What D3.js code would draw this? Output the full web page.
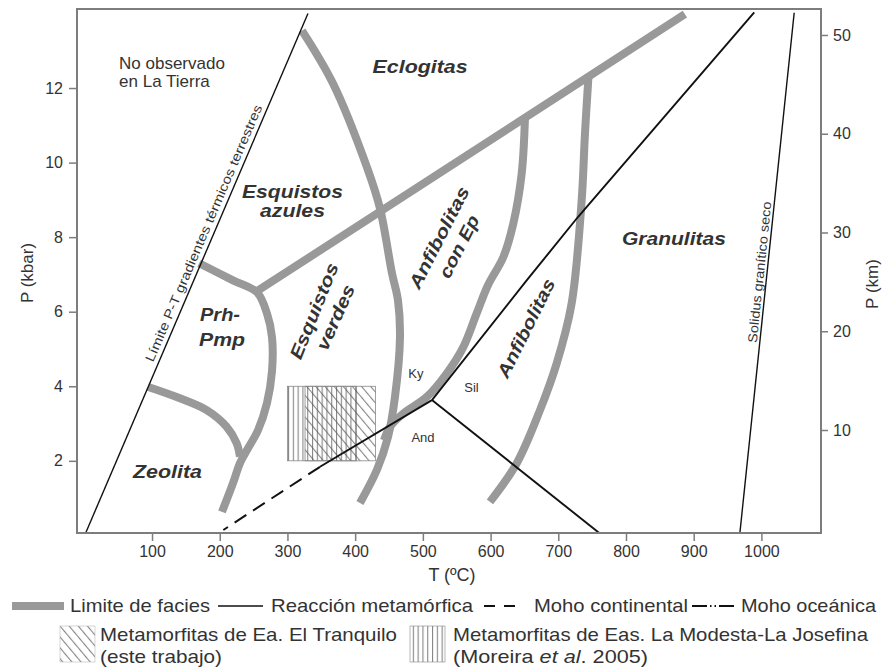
<!DOCTYPE html>
<html><head><meta charset="utf-8">
<script src="https://cdn.jsdelivr.net/npm/d3@7"></script>
<style>
body{margin:0;background:#fff}
svg{display:block}
text{font-family:"Liberation Sans",Arial,Helvetica,sans-serif}
</style>
</head><body>
<svg id="chart" width="892" height="671"></svg>
<script>
// ---------- DATA (T in ºC, P in kbar) ----------
const tempTicks = [100,200,300,400,500,600,700,800,900,1000];
const pressureTicks = [2,4,6,8,10,12];
const depthTicks = [10,20,30,40,50];

// facies limits (thick grey)
const faciesDiagonal = [[255,6.55],[887,13.98]];
const blueschistLimit = [[321.5,13.54],[367.3,12.12],[417.5,9.87],[436.7,8.77],[454.4,7.03],[463.2,6.31],[466.2,5.31],[458.8,3.71],[448.5,2.64],[432.2,1.76],[407.1,0.87]];
const prhPmpLimit = [[169.6,7.30],[219.6,6.84],[255.0,6.52],[269.8,5.95],[277.2,5.31],[277.2,4.41],[269.8,3.55],[256.5,2.82],[240.3,2.29],[229.9,1.94],[219.6,1.40],[203.3,0.63]];
const zeoliteLimit = [[94.5,3.98],[136.4,3.71],[180.7,3.36],[210.3,2.91],[225.0,2.47],[229.9,2.11]];
const epAmphiboliteLimit = [[650.8,11.2],[645.9,9.70],[633.5,8.36],[618.7,7.46],[596.1,6.71],[579.4,5.95],[559.7,5.05],[535.1,4.34],[505.6,3.71],[471.1,3.27],[451.4,2.91],[442.6,2.55]];
const granuliteLimit = [[599.1,0.90],[638.5,1.93],[673.0,3.36],[697.6,4.61],[719.7,6.22],[734.5,8.98],[739.4,10.77],[744.2,12.20],[745.0,12.35]];

// metamorphic reactions and other lines (thin black)
const ptLimit = [[2,0.064],[330.3,14.0]];
const kyaniteSillimanite = [[513.4,3.63],[653.3,6.84],[729.0,8.54],[989.4,14.03]];
const sillimaniteAndalusite = [[513.4,3.63],[760.5,0.064]];
const kyaniteAndalusite = [[513.4,3.63],[348.1,1.84]];
const mohoContinental = [[348.1,1.84],[205.3,0.145]];
const dryGraniteSolidus = [[968.2,0.064],[1048.4,14.02]];

// sample fields
const fieldModesta = {t0:300, t1:402, p0:2, p1:4};
const fieldTranquilo = {t0:326, t1:430, p0:2, p1:4};

// region labels: [text, T, P, anchor, length]
const faciesLabels = [
  ["Eclogitas",495.9,12.41,"middle",95],
  ["Esquistos",307.5,9.06,"middle",101],
  ["azules",307.5,8.53,"middle",65],
  ["Prh-",170.9,5.75,"start",40],
  ["Pmp",169.4,5.09,"start",46],
  ["Zeolita",71.9,1.54,"start",69],
  ["Granulitas",870.8,7.78,"middle",104]
];
// rotated labels: [text, T, P, angle, length]
const rotatedLabels = [
  ["Esquistos",339.2,6.02,-68,102],
  ["verdes",371.0,5.85,-66,70],
  ["Anfibolitas",523.8,7.99,-63,112],
  ["con Ep",553.3,7.75,-63,68],
  ["Anfibolitas",652.3,5.56,-63.5,108]
];
const mineralLabels = [["Ky",489.8,4.22],["Sil",571.8,3.84],["And",500.2,2.50]];

// ---------- SCALES ----------
const svg = d3.select("#chart");
const x = d3.scaleLinear().domain([-10.8,1088]).range([77,821]);
const y = d3.scaleLinear().domain([0.064,14.12]).range([533,9]);
const yKm = d3.scaleLinear().domain([-0.43,52.63]).range([533,9]);

const GREY = "#999999", INK = "#333333", FRAME = "#7d7d7d";

// ---------- PATTERNS ----------
const defs = svg.append("defs");
const pv = defs.append("pattern").attr("id","vert").attr("patternUnits","userSpaceOnUse")
  .attr("width",4.8).attr("height",10);
pv.append("line").attr("x1",0.6).attr("x2",0.6).attr("y1",0).attr("y2",10)
  .attr("stroke","#555").attr("stroke-width",0.8);
const pd = defs.append("pattern").attr("id","diag").attr("patternUnits","userSpaceOnUse")
  .attr("width",7).attr("height",10).attr("patternTransform","rotate(-40)");
pd.append("line").attr("x1",0.6).attr("x2",0.6).attr("y1",0).attr("y2",10)
  .attr("stroke","#555").attr("stroke-width",0.8);

// ---------- SAMPLE FIELDS ----------
function field(f, pat){
  svg.append("rect")
    .attr("x",x(f.t0)).attr("y",y(f.p1))
    .attr("width",x(f.t1)-x(f.t0)).attr("height",y(f.p0)-y(f.p1))
    .attr("fill",`url(#${pat})`).attr("stroke","#888").attr("stroke-width",0.8);
}
field(fieldModesta,"vert");
field(fieldTranquilo,"diag");

// ---------- FACIES LIMITS ----------
const smooth = d3.line().x(d=>x(d[0])).y(d=>y(d[1])).curve(d3.curveCatmullRom.alpha(0.5));
const straight = d3.line().x(d=>x(d[0])).y(d=>y(d[1]));
[blueschistLimit,prhPmpLimit,zeoliteLimit,epAmphiboliteLimit,granuliteLimit].forEach(c=>{
  svg.append("path").attr("d",smooth(c)).attr("fill","none")
    .attr("stroke",GREY).attr("stroke-width",8).attr("stroke-linejoin","round");
});
svg.append("path").attr("d",straight(faciesDiagonal)).attr("fill","none")
  .attr("stroke",GREY).attr("stroke-width",8);

// ---------- BLACK LINES ----------
[[ptLimit,1.4],[dryGraniteSolidus,1.4],[kyaniteSillimanite,1.9],[sillimaniteAndalusite,1.9],[kyaniteAndalusite,1.9]].forEach(([c,w])=>{
  svg.append("path").attr("d",straight(c)).attr("fill","none").attr("stroke","#111").attr("stroke-width",w);
});
svg.append("path").attr("d",straight(mohoContinental)).attr("fill","none")
  .attr("stroke","#111").attr("stroke-width",2).attr("stroke-dasharray","14,8");

// ---------- FRAME & AXES ----------
svg.append("rect").attr("x",77).attr("y",9).attr("width",744).attr("height",524)
  .attr("fill","none").attr("stroke",FRAME).attr("stroke-width",2);

function styleAxis(g){
  g.select(".domain").remove();
  g.selectAll(".tick line").attr("stroke",FRAME).attr("stroke-width",1.5);
  g.selectAll(".tick text").attr("fill",INK).attr("font-size",16)
    .attr("font-family",'"Liberation Sans",Arial,sans-serif');
}
svg.append("g").attr("transform","translate(0,533)")
  .call(d3.axisBottom(x).tickValues(tempTicks).tickSize(8).tickPadding(5).tickFormat(d3.format("d")))
  .call(styleAxis);
svg.append("g").attr("transform","translate(77,0)")
  .call(d3.axisLeft(y).tickValues(pressureTicks).tickSize(8).tickPadding(6).tickFormat(d3.format("d")))
  .call(styleAxis);
svg.append("g").attr("transform","translate(821,0)")
  .call(d3.axisRight(yKm).tickValues(depthTicks).tickSize(7).tickPadding(5).tickFormat(d3.format("d")))
  .call(styleAxis);

svg.append("text").attr("transform","translate(27,273) rotate(-90)").attr("text-anchor","middle")
  .attr("dy","0.35em").attr("font-size",17).attr("fill",INK).text("P (kbar)");
svg.append("text").attr("transform","translate(872,284) rotate(-90)").attr("text-anchor","middle")
  .attr("dy","0.35em").attr("font-size",17).attr("fill",INK).text("P (km)");
svg.append("text").attr("x",452).attr("y",581).attr("text-anchor","middle")
  .attr("font-size",18).attr("fill",INK).text("T (ºC)");

// ---------- LABELS ----------
faciesLabels.forEach(([t,T,P,a,len])=>{
  svg.append("text").attr("x",x(T)).attr("y",y(P)).attr("text-anchor",a)
    .attr("font-size",18).attr("font-weight","bold").attr("font-style","italic").attr("fill",INK)
    .attr("textLength",len).attr("lengthAdjust","spacingAndGlyphs").text(t);
});
rotatedLabels.forEach(([t,T,P,ang,len])=>{
  svg.append("text").attr("transform",`translate(${x(T)},${y(P)}) rotate(${ang})`)
    .attr("text-anchor","middle").attr("dy","0.35em")
    .attr("font-size",18).attr("font-weight","bold").attr("font-style","italic").attr("fill",INK)
    .attr("textLength",len).attr("lengthAdjust","spacingAndGlyphs").text(t);
});
mineralLabels.forEach(([t,T,P])=>{
  svg.append("text").attr("x",x(T)).attr("y",y(P)).attr("text-anchor","middle")
    .attr("font-size",13).attr("fill",INK).text(t);
});
const noObs = svg.append("text").attr("font-size",17).attr("fill",INK);
noObs.append("tspan").attr("x",x(51.3)).attr("y",y(12.52)).text("No observado");
noObs.append("tspan").attr("x",x(51.3)).attr("y",y(12.02)).text("en La Tierra");

// labels along lines
function alongLine(line, frac, offset, txt, len){
  const [a,b] = line;
  const x0=x(a[0]), y0=y(a[1]), x1=x(b[0]), y1=y(b[1]);
  const dx=x1-x0, dy=y1-y0, L=Math.hypot(dx,dy);
  const ux=dx/L, uy=dy/L;
  const px = x0+dx*frac, py = y0+dy*frac;
  const nx = uy, ny = -ux;
  const ang = Math.atan2(dy,dx)*180/Math.PI;
  svg.append("text").attr("transform",`translate(${px+nx*offset},${py+ny*offset}) rotate(${ang})`)
    .attr("text-anchor","middle").attr("font-size",13).attr("fill",INK)
    .attr("textLength",len).attr("lengthAdjust","spacingAndGlyphs").text(txt);
}
alongLine(ptLimit, 0.57, 5, "Límite P-T gradientes térmicos terrestres", 278);
alongLine(dryGraniteSolidus, 0.50, 3, "Solidus granítico seco", 142);

// ---------- LEGEND ----------
const lg = svg.append("g").attr("font-size",19).attr("fill",INK);
lg.append("rect").attr("x",12).attr("y",602).attr("width",52).attr("height",8).attr("fill",GREY);
lg.append("text").attr("x",70).attr("y",612).attr("textLength",140).attr("lengthAdjust","spacingAndGlyphs").text("Limite de facies");
lg.append("line").attr("x1",218).attr("x2",263).attr("y1",606).attr("y2",606).attr("stroke","#111").attr("stroke-width",1.6);
lg.append("text").attr("x",271).attr("y",612).attr("textLength",202).attr("lengthAdjust","spacingAndGlyphs").text("Reacción metamórfica");
lg.append("line").attr("x1",484).attr("x2",517).attr("y1",606).attr("y2",606).attr("stroke","#111").attr("stroke-width",2).attr("stroke-dasharray","11,9");
lg.append("text").attr("x",534).attr("y",612).attr("textLength",154).attr("lengthAdjust","spacingAndGlyphs").text("Moho continental");
lg.append("line").attr("x1",692).attr("x2",736).attr("y1",606).attr("y2",606).attr("stroke","#111").attr("stroke-width",2).attr("stroke-dasharray","15,3,1.5,3,1.5,3");
lg.append("text").attr("x",741).attr("y",612).attr("textLength",135).attr("lengthAdjust","spacingAndGlyphs").text("Moho oceánica");

lg.append("rect").attr("x",60).attr("y",626).attr("width",35).attr("height",36).attr("fill","url(#diag)").attr("stroke","#bbb").attr("stroke-width",0.6);
lg.append("rect").attr("x",410).attr("y",626).attr("width",35).attr("height",36).attr("fill","url(#vert)").attr("stroke","#888").attr("stroke-width",0.6);
lg.append("text").attr("x",100).attr("y",641).attr("textLength",297).attr("lengthAdjust","spacingAndGlyphs").text("Metamorfitas de Ea. El Tranquilo");
lg.append("text").attr("x",100).attr("y",663).attr("textLength",122).attr("lengthAdjust","spacingAndGlyphs").text("(este trabajo)");
lg.append("text").attr("x",453).attr("y",641).attr("textLength",415).attr("lengthAdjust","spacingAndGlyphs").text("Metamorfitas de Eas. La Modesta-La Josefina");
const mor = lg.append("text").attr("x",453).attr("y",663).attr("textLength",195).attr("lengthAdjust","spacingAndGlyphs");
mor.append("tspan").text("(Moreira ");
mor.append("tspan").attr("font-style","italic").text("et al");
mor.append("tspan").text(". 2005)");
</script>
</body></html>
